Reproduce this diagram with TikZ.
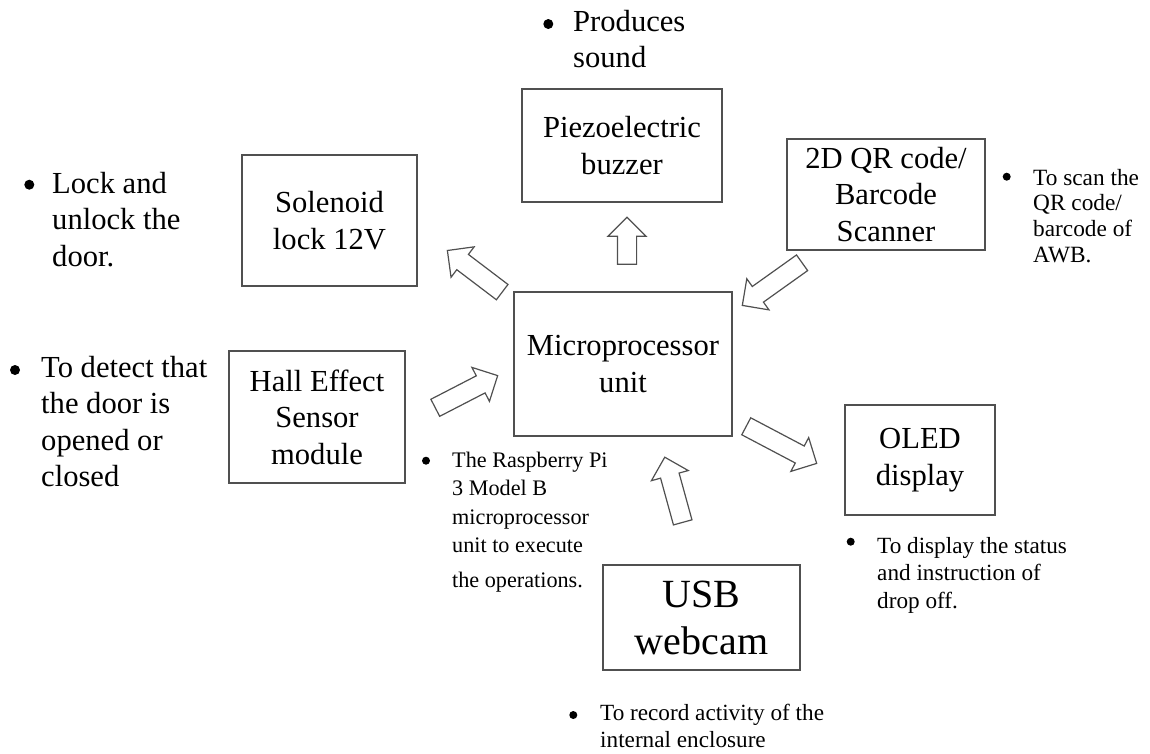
\documentclass[tikz,border=0pt]{standalone}
\usepackage{fontspec}
\setmainfont{Liberation Serif}
\usetikzlibrary{shapes.arrows}
\definecolor{edge}{RGB}{80,80,80}
\begin{document}
\begin{tikzpicture}[x=1pt,y=-1pt,
  block/.style={draw=edge, line width=1.3pt, inner sep=0pt, align=center,
    font=\fontsize{30.6}{36.5}\selectfont},
  note/.style={anchor=north west, inner sep=0pt, align=left},
  bignote/.style={note, font=\fontsize{30.6}{36.5}\selectfont},
  dot/.style={circle, fill=black, inner sep=0pt, minimum size=#1},
  dot/.default=10pt,
  fat/.style={single arrow, draw=edge, line width=1.2pt, inner xsep=0pt,
    inner ysep=9pt, single arrow head extend=9.5pt, fill=white}]
\useasboundingbox[fill=white] (0,0) rectangle (1150,753);

% units
\node[block, minimum width=200pt, minimum height=113pt] (piezo) at (622,145.5) {Piezoelectric\\buzzer};
\node[block, minimum width=175pt, minimum height=131pt] (sol) at (329.5,220.5) {Solenoid\\lock 12V};
\node[block, minimum width=198pt, minimum height=111pt] (qr) at (886,194.5) {2D QR code/\\Barcode\\Scanner};
\node[block, minimum width=218pt, minimum height=144pt] (mpu) at (623,364) {Microprocessor\\unit};
\node[block, minimum width=176pt, minimum height=132pt] (hall) at (317,417) {Hall Effect\\Sensor\\module};
\node[block, minimum width=150pt, minimum height=110pt] (oled) at (920,460) {OLED\\display};
\node[block, minimum width=197pt, minimum height=105pt, font=\fontsize{40}{47}\selectfont] (usb) at (701.5,617.5) {USB\\webcam};

% block arrows between the units
\node[fat, minimum height=47pt, rotate=90] (a-piezo) at (627,245.5) {};
\node[fat, minimum height=68.8pt, rotate=142.8] (a-sol) at (478.6,274.2) {};
\node[fat, minimum height=73.4pt, rotate=215.5] (a-qr) at (776.1,281.3) {};
\node[fat, minimum height=70.2pt, rotate=27.3] (a-hall) at (462.2,393.9) {};
\node[fat, minimum height=79.6pt, rotate=-27.8] (a-oled) at (777.2,442.6) {};
\node[fat, minimum height=67.6pt, rotate=105.4] (a-usb) at (675,494.4) {};

% notes
\node[bignote] (n-piezo) at (573,5.5) {\strut Produces\\sound};
\node[bignote] (n-sol) at (52,167.5) {\strut Lock and\\unlock the\\door.};
\node[bignote] (n-hall) at (41,351.5) {\strut To detect that\\the door is\\opened or\\closed};
\node[note, font=\fontsize{23.3}{25.7}\selectfont] (n-qr) at (1033,167) {\strut To scan the\\QR code/\\barcode of\\AWB.};
\node[note, font=\fontsize{22.2}{28.5}\selectfont] (n-mpu) at (452,447) {\strut The Raspberry Pi\\3 Model B\\microprocessor\\unit to execute\\[6pt]the operations.};
\node[note, font=\fontsize{23.2}{27.5}\selectfont] (n-oled) at (877,533.75) {\strut To display the status\\and instruction of\\drop off.};
\node[note, font=\fontsize{23.2}{27}\selectfont] (n-usb) at (600,701) {\strut To record activity of the\\internal enclosure};

% bullets of the notes
\node[dot] (b-piezo) at (548.3,24) {};
\node[dot] (b-sol) at (29.3,184.7) {};
\node[dot] (b-hall) at (15,370) {};
\node[dot=8pt] (b-qr) at (1006.7,176.7) {};
\node[dot=8pt] (b-mpu) at (426,460.7) {};
\node[dot=8pt] (b-oled) at (850.7,541.7) {};
\node[dot=8pt] (b-usb) at (573.3,715) {};
\end{tikzpicture}
\end{document}
